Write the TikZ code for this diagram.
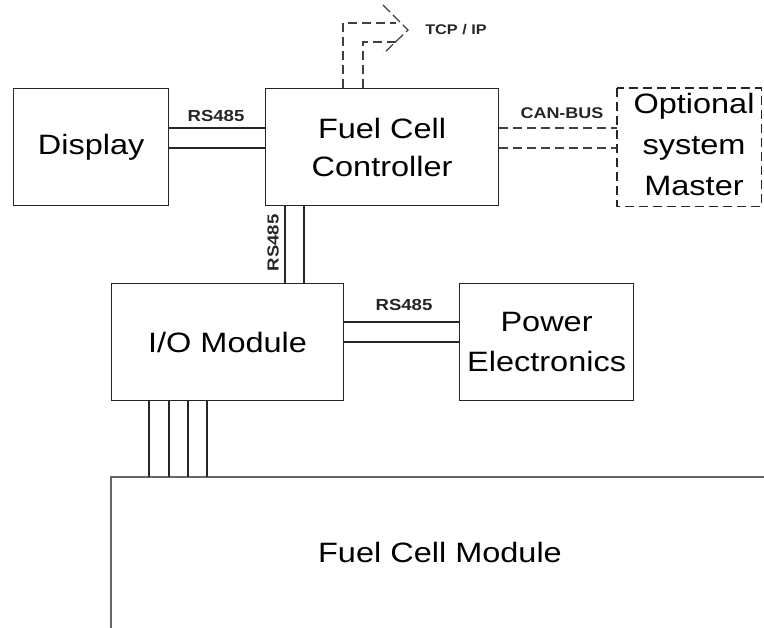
\documentclass[tikz,border=0pt]{standalone}
\usepackage{fontspec}
\setmainfont[FakeStretch=1.16]{Liberation Sans}
\begin{document}
\begin{tikzpicture}[x=1pt,y=-1pt,
  box/.style={draw=black!85,line width=1.2pt,anchor=north west,inner sep=0pt,align=center,
              font=\fontsize{28}{38}\selectfont},
  dbox/.style={box,dashed,dash pattern=on 9pt off 5pt},
  wire/.style={draw=black!85,line width=1.2pt},
  dwire/.style={wire,black!75,dash pattern=on 9pt off 5pt},
  lbl/.style={font=\bfseries\fontsize{16}{18}\selectfont,inner sep=0pt,text=black!85},
  mtxt/.style={font=\fontsize{28}{38}\selectfont,inner sep=0pt}]
\useasboundingbox (0,0) rectangle (764,628);

% boxes
\node[box,minimum width=155pt,minimum height=117pt] (disp) at (13,88) {Display};
\node[box,minimum width=233pt,minimum height=117pt] (fcc) at (265,88) {Fuel Cell\\Controller};
\node[box,minimum width=232pt,minimum height=117pt] (io) at (111,283) {I/O Module};
\node[box,minimum width=174pt,minimum height=117pt,font=\fontsize{28}{40}\selectfont] (pe) at (459,283) {Power\\Electronics};
\node[dbox,minimum width=143pt,minimum height=117pt,draw=none] (osm) at (617,88) {};
\draw[black!85,line width=1.2pt,dash pattern=on 9pt off 5pt] (osm.north west) rectangle (osm.south east);
\node[mtxt,font=\fontsize{28}{41}\selectfont,align=center] (osmt) at (694,144) {Optional\\system\\Master};

% Fuel cell module (open box)
\coordinate (fcmtl) at (111,477);
\draw[gray!80!black,line width=1.6pt] (111,640) -- (fcmtl) -- (780,477);
\node[mtxt] (fcm) at (440,552) {Fuel Cell Module};

% Display - FCC
\draw[wire] (disp.east |- 0,128) -- (fcc.west |- 0,128);
\draw[wire] (disp.east |- 0,148) -- (fcc.west |- 0,148);
\node[lbl] (l1) at (216,116) {RS485};

% FCC - IO
\draw[wire] (fcc.south -| 285,0) -- (io.north -| 285,0);
\draw[wire] (fcc.south -| 304,0) -- (io.north -| 304,0);
\node[lbl,rotate=90] (l2) at (273,243) {RS485};

% IO - PE
\draw[wire] (io.east |- 0,322) -- (pe.west |- 0,322);
\draw[wire] (io.east |- 0,342) -- (pe.west |- 0,342);
\node[lbl] (l3) at (404,305) {RS485};

% FCC - OSM
\draw[dwire] (fcc.east |- 0,128) -- (osm.west |- 0,128);
\draw[dwire] (fcc.east |- 0,148) -- (osm.west |- 0,148);
\node[lbl,font=\bfseries\fontsize{15.5}{18}\selectfont] (l4) at (562,113) {CAN-BUS};

% IO - FCM
\foreach \xx in {149,169,188,207}
  \draw[wire] (io.south -| \xx,0) -- (fcmtl -| \xx,0);

% TCP/IP arrow
\coordinate (tip) at (408,30);
\draw[dwire,line join=miter] (fcc.north -| 343,0) -- (343,23) -- (396,23);
\draw[dwire,line join=miter] (fcc.north -| 363,0) -- (363,42) -- (396,42);
\draw[dwire,dash pattern=on 10pt off 4pt] (383,5) -- (tip) -- (383,54);
\node[lbl,font=\bfseries\fontsize{14}{16}\selectfont] (l5) at (456,30) {TCP / IP};
\end{tikzpicture}
\end{document}
